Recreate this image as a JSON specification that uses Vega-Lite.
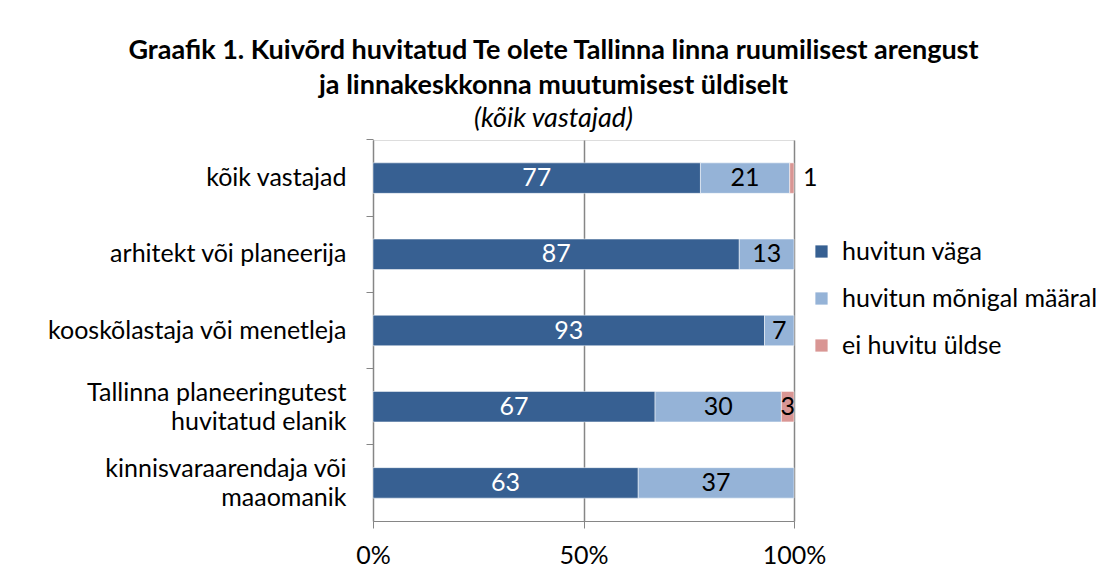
{
  "$schema": "https://vega.github.io/schema/vega-lite/v6.json",
  "autosize": "none",
  "width": 421,
  "height": 381,
  "padding": {"left": 373, "top": 140, "right": 318, "bottom": 62},
  "background": "white",
  "title": {
    "text": ["Graafik 1. Kuivõrd huvitatud Te olete Tallinna linna ruumilisest arengust", "ja linnakeskkonna muutumisest üldiselt"],
    "subtitle": "(kõik vastajad)",
    "anchor": "middle",
    "dx": -30,
    "font": "Lato",
    "fontSize": 27,
    "fontWeight": "bold",
    "lineHeight": 35,
    "color": "black",
    "subtitleFont": "Lato",
    "subtitleFontSize": 27,
    "subtitleFontStyle": "italic",
    "subtitleColor": "black",
    "subtitlePadding": 6,
    "offset": 6
  },
  "data": {
    "values": [
      {"cat": "kõik vastajad", "type": "huvitun väga", "value": 77},
      {"cat": "kõik vastajad", "type": "huvitun mõnigal määral", "value": 21},
      {"cat": "kõik vastajad", "type": "ei huvitu üldse", "value": 1},
      {"cat": "arhitekt või planeerija", "type": "huvitun väga", "value": 87},
      {"cat": "arhitekt või planeerija", "type": "huvitun mõnigal määral", "value": 13},
      {"cat": "kooskõlastaja või menetleja", "type": "huvitun väga", "value": 93},
      {"cat": "kooskõlastaja või menetleja", "type": "huvitun mõnigal määral", "value": 7},
      {"cat": "Tallinna planeeringutest|huvitatud elanik", "type": "huvitun väga", "value": 67},
      {"cat": "Tallinna planeeringutest|huvitatud elanik", "type": "huvitun mõnigal määral", "value": 30},
      {"cat": "Tallinna planeeringutest|huvitatud elanik", "type": "ei huvitu üldse", "value": 3},
      {"cat": "kinnisvaraarendaja või|maaomanik", "type": "huvitun väga", "value": 63},
      {"cat": "kinnisvaraarendaja või|maaomanik", "type": "huvitun mõnigal määral", "value": 37}
    ]
  },
  "transform": [
    {"stack": "value", "groupby": ["cat"], "sort": [{"field": "type", "order": "descending"}], "offset": "normalize", "as": ["x0", "x1"]}
  ],
  "encoding": {
    "y": {
      "field": "cat",
      "type": "nominal",
      "sort": null,
      "scale": {"paddingInner": 0.6, "paddingOuter": 0.3},
      "axis": {
        "title": null,
        "labelExpr": "split(datum.label, '|')",
        "labelFont": "Lato",
        "labelFontSize": 25,
        "labelColor": "black",
        "labelLineHeight": 29,
        "labelPadding": 20,
        "labelLimit": 0,
        "labelOffset": {"condition": {"test": "indexof(datum.value, '|') >= 0", "value": -14}, "value": 0},
        "tickSize": 7,
        "tickColor": "#868686",
        "domainColor": "#868686",
        "bandPosition": -0.75,
        "grid": false,
        "labelBound": false
      }
    }
  },
  "layer": [
    {
      "mark": {"type": "bar", "stroke": "white", "strokeWidth": 0.5},
      "encoding": {
        "x": {
          "field": "x0",
          "type": "quantitative",
          "scale": {"domain": [0, 1], "nice": false},
          "axis": {
            "title": null,
            "values": [0, 0.5, 1],
            "format": ".0%",
            "labelFont": "Lato",
            "labelFontSize": 25,
            "labelColor": "black",
            "labelPadding": 15,
            "tickSize": 7,
            "tickColor": "#868686",
            "domainColor": "#868686",
            "grid": true,
            "gridColor": "#868686",
            "gridWidth": 1.5,
            "labelFlush": false
          }
        },
        "x2": {"field": "x1"},
        "color": {
          "field": "type",
          "type": "nominal",
          "scale": {
            "domain": ["huvitun väga", "huvitun mõnigal määral", "ei huvitu üldse"],
            "range": ["#376092", "#95B3D7", "#D99694"]
          },
          "legend": {
            "title": null,
            "orient": "none",
            "legendX": 436,
            "legendY": 99,
            "symbolType": "square",
            "symbolSize": 150,
            "symbolStrokeWidth": 0,
            "labelFont": "Lato",
            "labelFontSize": 25,
            "labelColor": "black",
            "labelLimit": 0,
            "labelOffset": 8,
            "rowPadding": 21,
            "padding": 0
          }
        }
      }
    },
    {
      "mark": {"type": "text", "font": "Lato", "fontSize": 25, "baseline": "middle", "align": "center"},
      "encoding": {
        "x": {"field": "value", "type": "quantitative", "stack": "normalize", "bandPosition": 0.5},
        "order": {"field": "type", "type": "nominal", "sort": "descending"},
        "text": {"condition": {"test": "datum.value < 2", "value": ""}, "field": "value", "type": "quantitative"},
        "color": {"condition": {"test": "datum.type === 'huvitun väga'", "value": "white"}, "value": "black"}
      }
    },
    {
      "transform": [{"filter": "datum.value < 2"}],
      "mark": {"type": "text", "font": "Lato", "fontSize": 25, "baseline": "middle", "align": "left", "dx": 9, "color": "black"},
      "encoding": {
        "x": {"field": "x1", "type": "quantitative"},
        "text": {"field": "value", "type": "quantitative"}
      }
    }
  ]
}
